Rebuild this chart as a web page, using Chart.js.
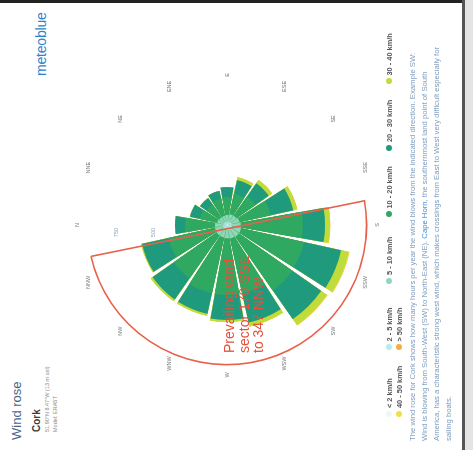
<!DOCTYPE html>
<html>
<head>
<meta charset="utf-8">
<script src="https://cdn.jsdelivr.net/npm/chart.js@4.4.0/dist/chart.umd.min.js"></script>
<style>
html, body { margin: 0; padding: 0; background: #fff; overflow: hidden; }
body { width: 473px; height: 450px; position: relative; font-family: "Liberation Sans", Arial, sans-serif; }
#page { position: absolute; left: 0; top: 450px; width: 450px; height: 473px; transform-origin: 0 0; transform: rotate(-90deg); }
#title { position: absolute; left: 10px; top: 9px; font-size: 13px; color: #4a6686; }
#place { position: absolute; left: 18px; top: 31px; font-size: 10px; font-weight: bold; color: #3a3a3a; }
#coords, #model { position: absolute; left: 18px; font-size: 5.5px; color: #8a8a8a; }
#coords { top: 44px; }
#model { top: 52px; }
#logo { position: absolute; left: 374px; top: 33px; font-size: 14px; color: #2b85c8; letter-spacing: -0.2px; }
#rose { position: absolute; left: 58px; top: 60px; width: 334px; height: 334px; }
#legend { position: absolute; left: 33px; top: 384px; width: 400px; display: flex; flex-wrap: wrap; }
.item { width: 66.5px; height: 10px; display: flex; align-items: center; font-size: 7.4px; font-weight: bold; color: #555; }
.dot { width: 6px; height: 6px; border-radius: 50%; margin-right: 3px; flex: none; }
#text { position: absolute; left: 9px; top: 407px; width: 440px; font-size: 7.7px; line-height: 12px; color: #7f9dbf; white-space: nowrap; }
#text a { color: #3b8fd6; text-decoration: none; }
#topbar { position: absolute; left: 0; top: 0; width: 473px; height: 3px; background: #222; }
#rightbar { position: absolute; left: 462px; top: 0; width: 3px; height: 450px; background: #555; }
#rightfade { position: absolute; left: 465px; top: 0; width: 8px; height: 450px; background: #e4e4e4; }
</style>
</head>
<body>
<div id="page">
  <div id="title">Wind rose</div>
  <div id="place">Cork</div>
  <div id="coords">51.90°N 8.47°W (13 m asl)</div>
  <div id="model">Model: ERA5T</div>
  <div id="logo">meteoblue</div>
  <canvas id="rose" width="334" height="334"></canvas>
  <div id="legend"></div>
  <div id="text">
    The wind rose for Cork shows how many hours per year the wind blows from the indicated direction. Example SW:<br>
    Wind is blowing from South-West (SW) to North-East (NE). <a>Cape Horn</a>, the southernmost land point of South<br>
    America, has a characteristic strong west wind, which makes crossings from East to West very difficult especially for<br>
    sailing boats.
  </div>
</div>
<div id="topbar"></div>
<div id="rightbar"></div>
<div id="rightfade"></div>

<script>
// hours per year for each direction, per wind speed band
var directions = ["N", "NNE", "NE", "ENE", "E", "ESE", "SE", "SSE", "S", "SSW", "SW", "WSW", "W", "WNW", "NW", "NNW"];
var below2    = [6, 5, 5, 5, 5, 6, 6, 7, 8, 8, 8, 8, 7, 7, 7, 7];
var from2to5  = [20, 18, 17, 17, 18, 20, 20, 22, 24, 25, 25, 24, 23, 22, 22, 21];
var from5to10 = [55, 45, 42, 42, 45, 50, 52, 58, 62, 65, 65, 62, 60, 58, 58, 56];
var from10to20 = [205, 122, 106, 120, 122, 142, 160, 219, 423, 439, 446, 382, 386, 389, 355, 324];
var from20to30 = [68, 68, 54, 54, 68, 95, 109, 156, 150, 258, 238, 204, 170, 143, 177, 184];
var from30to40 = [0, 0, 0, 0, 0, 20, 27, 27, 34, 54, 48, 27, 14, 14, 14, 7];
var from40to50 = [0, 0, 0, 0, 0, 0, 0, 0, 2, 4, 3, 1, 0, 0, 0, 0];
var above50   = [0, 0, 0, 0, 0, 0, 0, 0, 0, 1, 1, 0, 0, 0, 0, 0];
var bandLabels = ["< 2 km/h", "2 - 5 km/h", "5 - 10 km/h", "10 - 20 km/h", "20 - 30 km/h", "30 - 40 km/h", "40 - 50 km/h", "> 50 km/h"];
var tickValues = [250, 500, 750];

var bands = [below2, from2to5, from5to10, from10to20, from20to30, from30to40, from40to50, above50];
var bandColors = ["#eef8f2", "#b6ecec", "#8ed8b9", "#2fa862", "#1f9a7c", "#bfdc3a", "#f0e244", "#f4ae3e"];

var sector = 360 / directions.length;
var gap = 2.4;

// legend
var legend = document.getElementById("legend");
bandLabels.forEach(function(l, i){
	var it = document.createElement("div");
	it.className = "item";
	it.innerHTML = '<span class="dot" style="background:' + bandColors[i] + '"></span>' + l;
	legend.appendChild(it);
});

// stacked: each dataset is the running total, innermost drawn on top
var labels32 = [];
directions.forEach(function(d){ labels32.push(d, ""); });
var running = directions.map(function(){ return 0; });
var datasets = bands.map(function(b, k){
	running = running.map(function(v, i){ return v + b[i]; });
	var vals = [];
	running.forEach(function(v){ vals.push(v, 0); });
	return {
		label: bandLabels[k],
		data: vals,
		backgroundColor: bandColors[k],
		borderWidth: 0,
		angle: function(c){ return c.dataIndex % 2 ? gap : sector - gap; }
	};
});

var roseDecor = {
	id: "roseDecor",
	beforeDatasetsDraw: function(chart){
		var r = chart.scales.r, ctx = chart.ctx;
		ctx.save();
		ctx.font = '5.5px "Liberation Sans", Arial, sans-serif';
		ctx.fillStyle = "#8ea5c0";
		ctx.textAlign = "right";
		ctx.textBaseline = "middle";
		tickValues.forEach(function(v){
			ctx.fillText(String(v), r.xCenter - 3, r.yCenter - r.getDistanceFromCenterForValue(v));
		});
		ctx.restore();
	},
	afterDatasetsDraw: function(chart){
		var r = chart.scales.r, ctx = chart.ctx;
		var cx = r.xCenter, cy = r.yCenter;
		ctx.save();
		ctx.font = '5.5px "Liberation Sans", Arial, sans-serif';
		ctx.fillStyle = "#777";
		ctx.textAlign = "center";
		ctx.textBaseline = "middle";
		directions.forEach(function(d, i){
			var a = -Math.PI / 2 + i * 2 * Math.PI / directions.length;
			var rad = r.drawingArea + 3;
			ctx.fillText(d, cx + Math.cos(a) * rad, cy + Math.sin(a) * rad);
		});

		// prevailing wind sector, 170 to 347 degrees
		var R = r.getDistanceFromCenterForValue(950);
		var a1 = (170 - 90) * Math.PI / 180, a2 = (347 - 90) * Math.PI / 180;
		ctx.strokeStyle = "#e8604a";
		ctx.lineWidth = 1.6;
		ctx.beginPath();
		ctx.moveTo(cx + Math.cos(a2) * R, cy + Math.sin(a2) * R);
		ctx.lineTo(cx + Math.cos(a1) * R, cy + Math.sin(a1) * R);
		ctx.arc(cx, cy, R, a1, a2, false);
		ctx.stroke();

		ctx.fillStyle = "#e6503a";
		ctx.font = '14px "Liberation Sans", Arial, sans-serif';
		ctx.textAlign = "left";
		ctx.textBaseline = "middle";
		ctx.fillText("Prevailing wind", cx - 128, cy + 3);
		ctx.fillText("sector 170 SSE", cx - 128, cy + 18);
		ctx.fillText("to 347 NNW", cx - 128, cy + 32);
		ctx.restore();
	}
};

var ctx = document.getElementById("rose").getContext("2d");
new Chart(ctx, {
	type: "polarArea",
	data: { labels: labels32, datasets: datasets },
	options: {
		responsive: false,
		animation: false,
		events: [],
		layout: { padding: 20 },
		plugins: { legend: { display: false }, tooltip: { enabled: false } },
		scales: {
			r: {
				min: 0,
				max: 1000,
				startAngle: -(sector - gap) / 2,
				ticks: { display: false },
				grid: { display: false },
				angleLines: { display: false },
				pointLabels: { display: false }
			}
		}
	},
	plugins: [roseDecor]
});
</script>
</body>
</html>
